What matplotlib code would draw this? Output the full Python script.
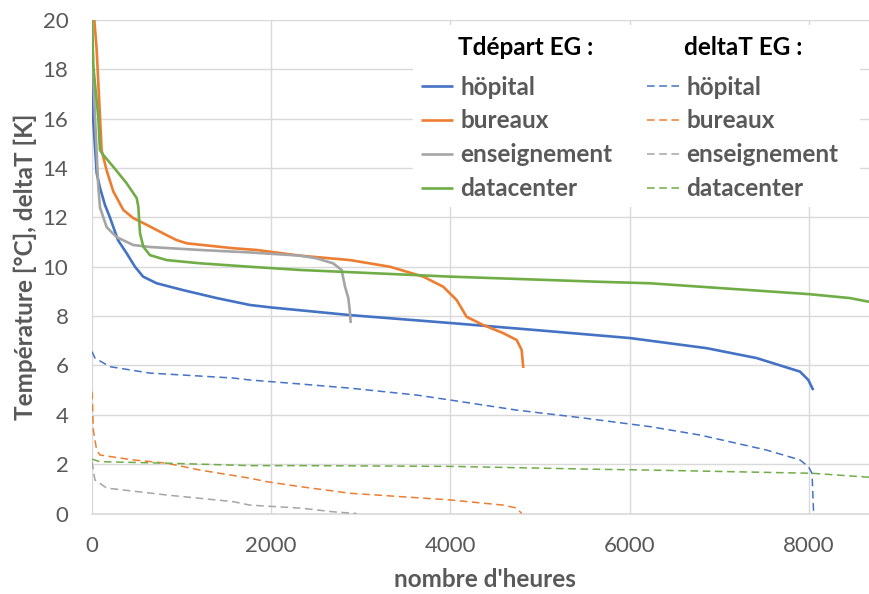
import numpy as np
import matplotlib
matplotlib.use("Agg")
import matplotlib.pyplot as plt
from matplotlib.patches import Rectangle

plt.rcParams['font.family'] = ['Lato', 'DejaVu Sans']

# courbes classées (heures cumulées -> température / écart)
hop_x = [0, 8, 52, 89, 145, 200, 290, 386, 480, 570, 722, 1020, 1392, 1763, 2000, 2880, 4000,
         5000, 6004, 6860, 7417, 7902, 7995, 8050]
hop_y = [18.0, 16.3, 13.8, 13.2, 12.5, 12.0, 11.08, 10.55, 10.0, 9.6, 9.33, 9.05, 8.73, 8.45, 8.35,
         8.04, 7.72, 7.42, 7.11, 6.7, 6.3, 5.75, 5.41, 5.0]

bur_x = [0, 26, 52, 89, 108, 164, 238, 350, 461, 610, 833, 945, 1057, 1577, 1838, 2321, 2880,
         3326, 3697, 3920, 4070, 4181, 4366, 4590, 4740, 4795, 4814]
bur_y = [20.0, 20.0, 18.8, 16.1, 14.7, 13.9, 13.05, 12.3, 11.97, 11.7, 11.28, 11.08, 10.95, 10.75,
         10.68, 10.45, 10.27, 10.0, 9.6, 9.19, 8.65, 7.97, 7.64, 7.31, 7.03, 6.63, 5.9]

ens_x = [0, 12, 33, 70, 89, 164, 275, 461, 647, 1205, 1763, 2321, 2508, 2690, 2786, 2824, 2861,
         2880, 2887]
ens_y = [20.0, 18.0, 16.1, 13.25, 12.4, 11.6, 11.2, 10.88, 10.8, 10.68, 10.58, 10.45, 10.34, 10.14,
         9.87, 9.19, 8.73, 8.11, 7.72]

dc_x = [0, 15, 70, 89, 126, 238, 387, 499, 517, 536, 573, 647, 833, 1205, 1763, 2321, 3996,
        5670, 6228, 8002, 8460, 8672]
dc_y = [20.0, 18.1, 16.07, 14.73, 14.53, 14.05, 13.38, 12.78, 12.43, 11.35, 10.81, 10.47, 10.27,
        10.14, 10.0, 9.87, 9.6, 9.39, 9.33, 8.89, 8.73, 8.58]

dhop_x = [0, 33, 200, 647, 1577, 1763, 2321, 2880, 3624, 3996, 4740, 5484, 6228, 6786, 7530,
          7902, 7995, 8036, 8054]
dhop_y = [6.56, 6.3, 5.95, 5.69, 5.49, 5.41, 5.25, 5.08, 4.8, 4.6, 4.19, 3.87, 3.52, 3.18, 2.57,
          2.17, 1.9, 1.63, 0.0]

dbur_x = [0, 15, 52, 89, 461, 833, 1205, 1763, 1950, 2321, 2880, 3996, 4590, 4740, 4795]
dbur_y = [4.94, 3.38, 2.57, 2.37, 2.17, 2.04, 1.76, 1.43, 1.29, 1.09, 0.82, 0.55, 0.34, 0.22, 0.0]

dens_x = [0, 33, 164, 833, 1577, 1763, 2321, 2690, 2950]
dens_y = [2.1, 1.36, 1.03, 0.75, 0.48, 0.34, 0.22, 0.07, 0.0]

ddc_x = [0, 89, 833, 1763, 2321, 3996, 5670, 6228, 8036, 8672]
ddc_y = [2.2, 2.1, 2.04, 1.94, 1.94, 1.91, 1.79, 1.76, 1.63, 1.47]

noms = ["höpital", "bureaux", "enseignement", "datacenter"]
entetes = ["Tdépart EG :", "deltaT EG :"]
couleurs = ["#4472C4", "#ED7D31", "#A5A5A5", "#70AD47"]
texte = "#595959"

fig = plt.figure(figsize=(8.69, 5.94), dpi=100)
ax = fig.add_axes([92/869, 1 - 513.5/594, (0.0896*8760)/869, (513.5 - 20)/594])

depart = [(hop_x, hop_y), (bur_x, bur_y), (ens_x, ens_y), (dc_x, dc_y)]
delta = [(dhop_x, dhop_y), (dbur_x, dbur_y), (dens_x, dens_y), (ddc_x, ddc_y)]

h_dep, h_del = [], []
for (x, y), c in zip(depart, couleurs):
    h_dep.append(ax.plot(x, y, color=c, lw=1.9, solid_capstyle='butt', zorder=3)[0])
for (x, y), c in zip(delta, couleurs):
    h_del.append(ax.plot(x, y, color=c, lw=1.1, dashes=(5, 3), zorder=3)[0])

ax.set_xlim(0, 8760)
ax.set_ylim(0, 20)
ax.set_xticks(np.arange(0, 8001, 2000))
ax.set_yticks(np.arange(0, 21, 2))
ax.grid(True, color="#D9D9D9", lw=1.0)
ax.set_axisbelow(True)
for s in ["top", "right", "left"]:
    ax.spines[s].set_visible(False)
ax.spines["bottom"].set_color("#D9D9D9")
ax.spines["bottom"].set_linewidth(1.2)
ax.tick_params(length=0, labelsize=16, labelcolor=texte)
ax.tick_params(axis='y', pad=17)
ax.tick_params(axis='x', pad=16)

ax.set_xlabel("nombre d'heures", fontsize=17.5, fontweight='bold', color=texte, labelpad=9)
ax.set_ylabel("Température [°C], deltaT [K]", fontsize=17.5, fontweight='bold', color=texte,
              labelpad=4)

# fond blanc de la légende (masque la grille)
ax.add_patch(Rectangle((0.409, 0.621), 0.569, 0.369, transform=ax.transAxes,
                       facecolor='white', edgecolor='none', zorder=1))

ax.text(0.466, 0.945, entetes[0], transform=ax.transAxes, fontsize=17.5, fontweight='bold',
        color='black', va='center', ha='left', zorder=4)
ax.text(0.754, 0.945, entetes[1], transform=ax.transAxes, fontsize=17.5, fontweight='bold',
        color='black', va='center', ha='left', zorder=4)

leg = ax.legend(h_dep + h_del, noms + noms, ncol=2, loc='upper left',
                bbox_to_anchor=(0.419, 0.8875), frameon=False,
                prop={'size': 17.5, 'weight': 'bold'}, handlelength=1.32, handletextpad=0.29,
                labelspacing=0.45, columnspacing=1.45, borderpad=0, borderaxespad=0)
for t in leg.get_texts():
    t.set_color(texte)

fig.savefig("out.png", dpi=100)
